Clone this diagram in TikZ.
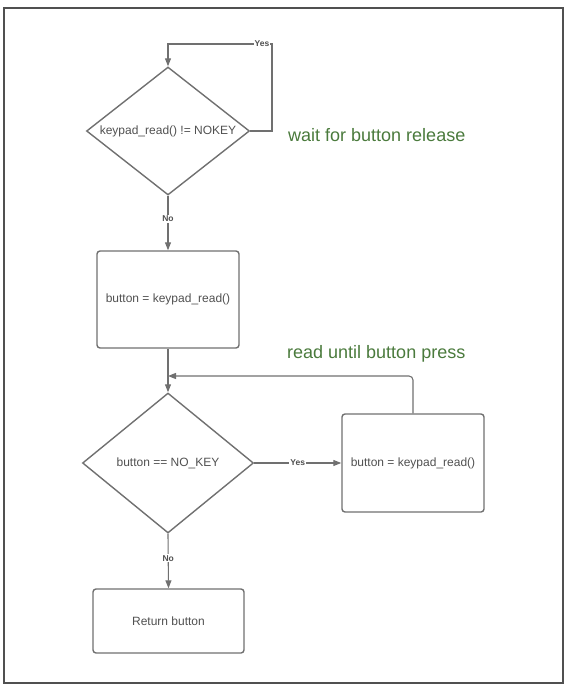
\documentclass[tikz,border=0pt]{standalone}
\usepackage{fontspec}
\setmainfont{Liberation Sans}
\usetikzlibrary{shapes.geometric,arrows.meta}
\definecolor{lnc}{HTML}{707070}
\definecolor{txc}{HTML}{505050}
\definecolor{grn}{HTML}{4A7A3C}
\tikzset{
  dec/.style={diamond,aspect=1.6,draw=lnc,line width=1.4pt,inner sep=0pt,minimum width=#1,text=txc,font=\fontsize{12}{14}\selectfont},
  proc/.style={rectangle,draw=lnc,line width=1.4pt,rounded corners=3pt,inner sep=0pt,text=txc,font=\fontsize{12}{14}\selectfont},
  conn/.style={draw=lnc,line width=1.1pt},
  arr/.style={conn,-{Triangle[length=8pt,width=6pt]}},
  lbl/.style={fill=white,inner sep=1pt,text=txc,font=\bfseries\fontsize{8.5}{9}\selectfont},
  note/.style={text=grn,font=\fontsize{18}{20}\selectfont,inner sep=0pt}
}
\begin{document}
\begin{tikzpicture}[x=1pt,y=-1pt]
\useasboundingbox (0,0) rectangle (572,688);
\draw[draw=txc,line width=1.3pt] (4,8) rectangle (563,683);
\node[dec=163pt,minimum height=128pt] (d1) at (168,131) {keypad\_read() != NOKEY};
\node[proc,minimum width=142pt,minimum height=97pt] (b1) at (168,299.5) {button = keypad\_read()};
\node[dec=171pt,minimum height=140pt] (d2) at (168,463) {button == NO\_KEY};
\node[proc,minimum width=142pt,minimum height=98pt] (b2) at (413,463) {button = keypad\_read()};
\node[proc,minimum width=151pt,minimum height=64pt] (b3) at (168.5,621) {Return button};
\node[note,anchor=west] (n1) at (288,135) {wait for button release};
\node[note,anchor=west] (n2) at (287,354) {read until button press};
\coordinate (c1) at (272,131);
\coordinate (c2) at (272,44);
\coordinate (c3) at (168,44);
\draw[arr] (d1.east) -- (c1) -- (c2) -- (c3) -- (d1.north);
\node[lbl] (y1) at (262,44) {Yes};
\draw[arr] (d1.south) -- (b1.north) node[lbl,pos=0.42] (n1l) {No};
\draw[arr] (b1.south) -- (d2.north);
\draw[arr] (d2.east) -- (b2.west) node[lbl,pos=0.5] (y2) {Yes};
\coordinate (c4) at (413,376);
\coordinate (c5) at (168,376);
\draw[arr,rounded corners=4pt] (b2.north) -- (c4) -- (c5);
\draw[arr] (d2.south) -- (b3.north) node[lbl,pos=0.45] (n2l) {No};
\end{tikzpicture}
\end{document}
